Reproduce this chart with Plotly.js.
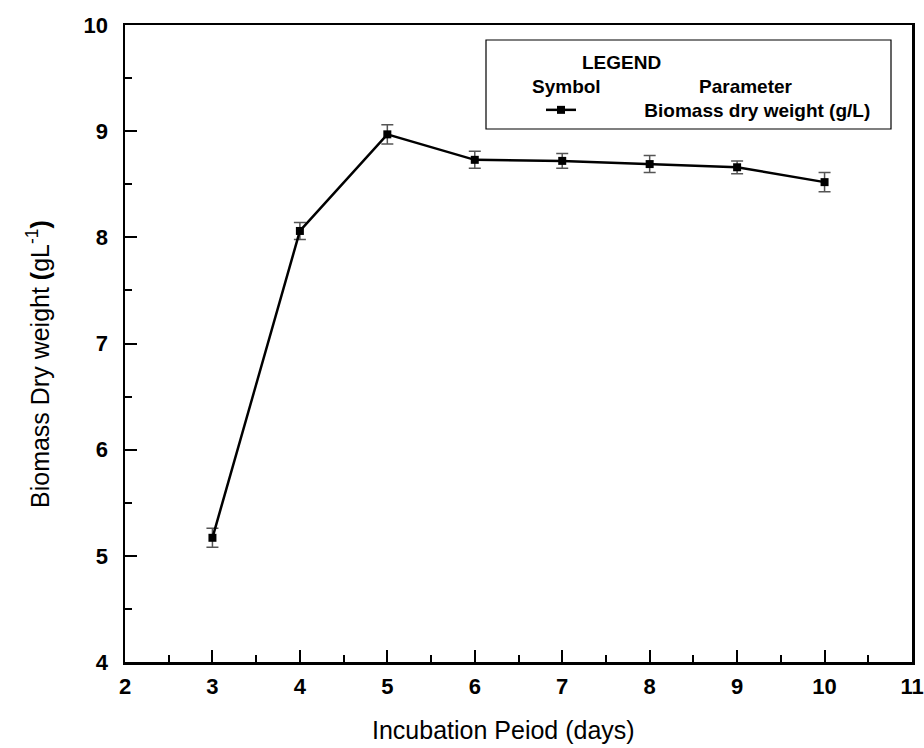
<!DOCTYPE html>
<html>
<head>
<meta charset="utf-8">
<script src="https://cdn.plot.ly/plotly-3.0.1.min.js"></script>
<style>html,body{margin:0;padding:0;background:#fff;}#chart{width:924px;height:748px;}</style>
</head>
<body>
<div id="chart"></div>
<script>
const days = [3, 4, 5, 6, 7, 8, 9, 10];
const biomass = [5.17, 8.06, 8.97, 8.73, 8.72, 8.69, 8.66, 8.52];
const errors = [0.09, 0.08, 0.09, 0.08, 0.07, 0.08, 0.06, 0.09];
const xTicks = [2, 3, 4, 5, 6, 7, 8, 9, 10, 11];
const yTicks = [4, 5, 6, 7, 8, 9, 10];
const seriesName = "Biomass dry weight (g/L)";

const font = "Arial, 'Liberation Sans', sans-serif";
const pad = '\u00a0'.repeat(12);

const trace = {
  x: days, y: biomass, type: 'scatter', mode: 'lines+markers',
  name: pad + seriesName,
  line: {color: '#000', width: 2.5},
  marker: {symbol: 'square', size: 8, color: '#000'},
  error_y: {type: 'data', array: errors, visible: true, color: '#555', thickness: 1.5, width: 6},
  showlegend: true
};

const px = v => (v - 125) / 787;
const py = v => (662 - v) / 637;

const layout = {
  width: 924, height: 748,
  margin: {l: 125, r: 12, t: 25, b: 86},
  paper_bgcolor: '#fff', plot_bgcolor: '#fff',
  font: {family: font, color: '#000'},
  showlegend: true,
  legend: {
    x: px(541), y: py(110), xanchor: 'left', yanchor: 'middle',
    bgcolor: 'rgba(0,0,0,0)', borderwidth: 0,
    font: {family: font, size: 19, color: '#000', weight: 'bold'},
    itemwidth: 30
  },
  xaxis: {
    range: [2, 11], tickvals: xTicks, ticktext: xTicks.map(v => '<b>' + v + '</b>'),
    ticks: 'inside', ticklen: 12, tickwidth: 2, tickcolor: '#000',
    minor: {dtick: 0.5, ticks: 'inside', ticklen: 7, tickwidth: 2, tickcolor: '#000'},
    showline: true, linecolor: '#000', linewidth: 2.5, mirror: true,
    showgrid: false, zeroline: false,
    ticklabelstandoff: 3,
    tickfont: {family: font, size: 22, color: '#000'}
  },
  yaxis: {
    range: [4, 10], tickvals: yTicks, ticktext: yTicks.map(v => '<b>' + v + '</b>'),
    ticks: 'inside', ticklen: 12, tickwidth: 2, tickcolor: '#000',
    minor: {dtick: 0.5, ticks: 'inside', ticklen: 7, tickwidth: 2, tickcolor: '#000'},
    showline: true, linecolor: '#000', linewidth: 2.5, mirror: true,
    showgrid: false, zeroline: false,
    ticklabelstandoff: 10,
    tickfont: {family: font, size: 22, color: '#000'}
  },
  shapes: [
    {type: 'rect', xref: 'paper', yref: 'paper',
     x0: px(486), x1: px(891), y0: py(129), y1: py(40),
     line: {color: '#000', width: 1.2}, fillcolor: 'rgba(0,0,0,0)'}
  ],
  annotations: [
    {text: 'Incubation Peiod (days)', xref: 'paper', yref: 'paper', x: px(503), y: py(730),
     xanchor: 'center', yanchor: 'middle', showarrow: false,
     font: {family: font, size: 25, color: '#000'}},
    {text: 'Biomass Dry weight <b>(</b>gL<sup>-1</sup><b>)</b>', xref: 'paper', yref: 'paper', x: px(38), y: py(364),
     xanchor: 'center', yanchor: 'middle', textangle: -90, showarrow: false,
     font: {family: font, size: 25, color: '#000'}},
    {text: '<b>LEGEND</b>', xref: 'paper', yref: 'paper', x: px(621), y: py(62), xanchor: 'center', yanchor: 'middle',
     showarrow: false, font: {family: font, size: 19, color: '#000'}},
    {text: '<b>Symbol</b>', xref: 'paper', yref: 'paper', x: px(566), y: py(87), xanchor: 'center', yanchor: 'middle',
     showarrow: false, font: {family: font, size: 19, color: '#000'}},
    {text: '<b>Parameter</b>', xref: 'paper', yref: 'paper', x: px(746), y: py(87), xanchor: 'center', yanchor: 'middle',
     showarrow: false, font: {family: font, size: 19, color: '#000'}}
  ]
};

Plotly.newPlot('chart', [trace], layout, {displayModeBar: false, staticPlot: true});
</script>
</body>
</html>
